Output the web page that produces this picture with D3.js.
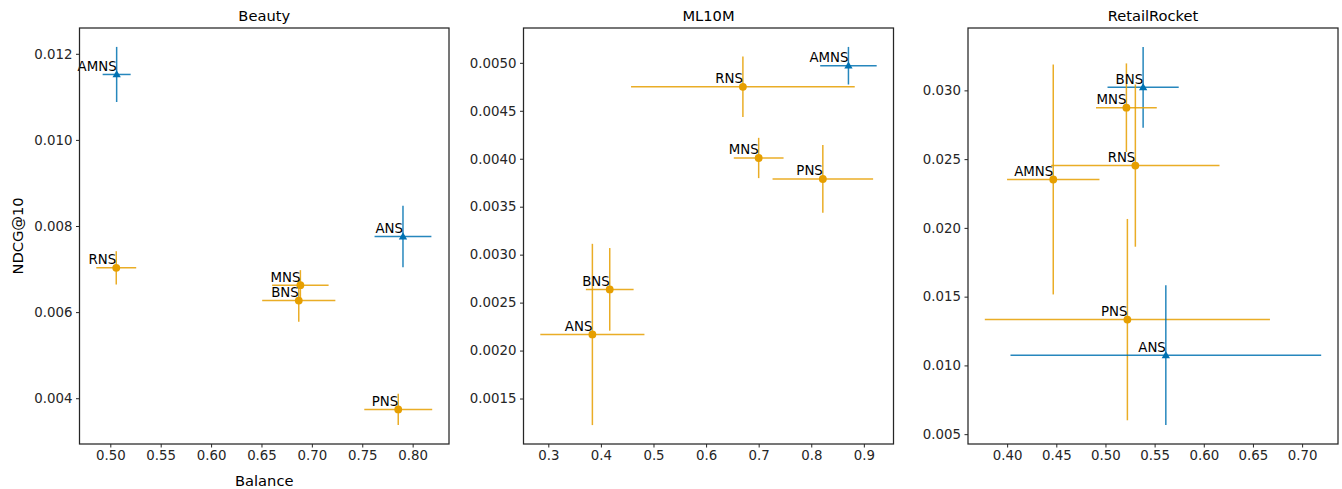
<!DOCTYPE html>
<html>
<head>
<meta charset="utf-8">
<script src="https://cdn.jsdelivr.net/npm/d3@7"></script>
<style>
  html, body { margin: 0; padding: 0; background: #fff; }
  svg text { font-family: "DejaVu Sans", sans-serif; }
</style>
</head>
<body>
<svg id="chart" width="1342" height="489"></svg>
<script>
// ---------------- DATA ----------------
const datasets = ["Beauty", "ML10M", "RetailRocket"];

// Beauty
const beautyMethods = ["AMNS", "ANS", "RNS", "MNS", "BNS", "PNS"];
const beautyGroup   = ["A", "A", "B", "B", "B", "B"];
const beautyBalance = [0.5063, 0.7904, 0.5059, 0.6886, 0.6870, 0.7857];
const beautyBalErr  = [0.0139, 0.0282, 0.0198, 0.0280, 0.0363, 0.0337];
const beautyNdcg    = [0.01152, 0.007755, 0.007028, 0.006625, 0.006269, 0.00374];
const beautyNdcgErr = [0.00064, 0.000713, 0.000387, 0.00035, 0.00049, 0.000364];

// ML10M
const mlMethods = ["AMNS", "RNS", "MNS", "PNS", "BNS", "ANS"];
const mlGroup   = ["A", "B", "B", "B", "B", "B"];
const mlBalance = [0.8707, 0.6700, 0.7000, 0.8220, 0.4168, 0.3838];
const mlBalErr  = [0.0537, 0.2127, 0.0473, 0.0956, 0.0454, 0.0990];
const mlNdcg    = [0.00497, 0.00475, 0.004008, 0.003789, 0.002638, 0.002168];
const mlNdcgErr = [0.000196, 0.000316, 0.00021, 0.000353, 0.000431, 0.000945];

// RetailRocket
const rrMethods = ["BNS", "MNS", "RNS", "AMNS", "PNS", "ANS"];
const rrGroup   = ["A", "B", "B", "B", "B", "A"];
const rrBalance = [0.5383, 0.5213, 0.5304, 0.4469, 0.5223, 0.5614];
const rrBalErr  = [0.0362, 0.0309, 0.0856, 0.0470, 0.1450, 0.1580];
const rrNdcg    = [0.03022, 0.02874, 0.02453, 0.02352, 0.01333, 0.01074];
const rrNdcgErr = [0.00294, 0.00322, 0.0059, 0.00836, 0.00732, 0.00508];

// Tick labels
const beautyXTicks = [0.50, 0.55, 0.60, 0.65, 0.70, 0.75, 0.80];
const beautyYTicks = [0.004, 0.006, 0.008, 0.010, 0.012];
const mlXTicks = [0.3, 0.4, 0.5, 0.6, 0.7, 0.8, 0.9];
const mlYTicks = [0.0015, 0.0020, 0.0025, 0.0030, 0.0035, 0.0040, 0.0045, 0.0050];
const rrXTicks = [0.40, 0.45, 0.50, 0.55, 0.60, 0.65, 0.70];
const rrYTicks = [0.005, 0.010, 0.015, 0.020, 0.025, 0.030];

const xLabel = "Balance";
const yLabel = "NDCG@10";

// ---------------- LAYOUT / STYLE ----------------
const colors = { A: "#0072B2", B: "#E69F00" };
const panels = [
  { title: datasets[0], methods: beautyMethods, group: beautyGroup, x: beautyBalance, xe: beautyBalErr,
    y: beautyNdcg, ye: beautyNdcgErr, xt: beautyXTicks, yt: beautyYTicks, xf: ".2f", yf: ".3f",
    left: 79.5, right: 449 },
  { title: datasets[1], methods: mlMethods, group: mlGroup, x: mlBalance, xe: mlBalErr,
    y: mlNdcg, ye: mlNdcgErr, xt: mlXTicks, yt: mlYTicks, xf: ".1f", yf: ".4f",
    left: 523.5, right: 893.5 },
  { title: datasets[2], methods: rrMethods, group: rrGroup, x: rrBalance, xe: rrBalErr,
    y: rrNdcg, ye: rrNdcgErr, xt: rrXTicks, yt: rrYTicks, xf: ".2f", yf: ".3f",
    left: 968, right: 1338 }
];
const plotTop = 28, plotBottom = 444;
const fs = 13.33;
const fsBig = 14.67;

const svg = d3.select("#chart");

function paddedDomain(lo, hi) {
  const r = hi - lo;
  return [lo - 0.05 * r, hi + 0.05 * r];
}

panels.forEach((p, pi) => {
  const rows = p.methods.map((m, i) => ({ m, g: p.group[i], x: p.x[i], xe: p.xe[i], y: p.y[i], ye: p.ye[i] }));
  const xd = paddedDomain(d3.min(rows, d => d.x - d.xe), d3.max(rows, d => d.x + d.xe));
  const yd = paddedDomain(d3.min(rows, d => d.y - d.ye), d3.max(rows, d => d.y + d.ye));
  const xs = d3.scaleLinear().domain(xd).range([p.left, p.right]);
  const ys = d3.scaleLinear().domain(yd).range([plotBottom, plotTop]);

  const g = svg.append("g");

  // axes
  const xAxis = d3.axisBottom(xs).tickValues(p.xt).tickFormat(d3.format(p.xf)).tickSize(3.5).tickPadding(3.5);
  const yAxis = d3.axisLeft(ys).tickValues(p.yt).tickFormat(d3.format(p.yf)).tickSize(3.5).tickPadding(3.5);
  const gx = g.append("g").attr("transform", `translate(0,${plotBottom})`).call(xAxis);
  const gy = g.append("g").attr("transform", `translate(${p.left},0)`).call(yAxis);
  [gx, gy].forEach(a => {
    a.select(".domain").remove();
    a.selectAll(".tick line").attr("stroke", "#262626").attr("stroke-width", 1);
    a.selectAll(".tick text").attr("fill", "#262626").style("font-size", fs + "px")
      .style("font-family", "'DejaVu Sans', sans-serif");
  });

  // error bars
  rows.forEach(d => {
    const c = colors[d.g];
    g.append("line").attr("x1", xs(d.x - d.xe)).attr("x2", xs(d.x + d.xe))
      .attr("y1", ys(d.y)).attr("y2", ys(d.y))
      .attr("stroke", c).attr("stroke-width", 1.5).attr("stroke-opacity", 0.85);
    g.append("line").attr("x1", xs(d.x)).attr("x2", xs(d.x))
      .attr("y1", ys(d.y - d.ye)).attr("y2", ys(d.y + d.ye))
      .attr("stroke", c).attr("stroke-width", 1.5).attr("stroke-opacity", 0.85);
  });

  // markers
  rows.forEach(d => {
    const c = colors[d.g];
    const sym = d.g === "A" ? d3.symbolTriangle : d3.symbolCircle;
    const size = d.g === "A" ? 30 : 48;
    g.append("path").attr("d", d3.symbol().type(sym).size(size)())
      .attr("transform", `translate(${xs(d.x)},${ys(d.y) + (d.g === "A" ? 0.5 : 0)})`)
      .attr("fill", c);
  });

  // text labels
  rows.forEach(d => {
    g.append("text").attr("x", xs(d.x)).attr("y", ys(d.y) - 3.5)
      .attr("text-anchor", "end").style("font-size", fs + "px").attr("fill", "#000")
      .text(d.m);
  });

  // frame
  g.append("rect").attr("x", p.left).attr("y", plotTop)
    .attr("width", p.right - p.left).attr("height", plotBottom - plotTop)
    .attr("fill", "none").attr("stroke", "#262626").attr("stroke-width", 1.25);

  // title
  g.append("text").attr("x", (p.left + p.right) / 2).attr("y", 20.5)
    .attr("text-anchor", "middle").style("font-size", fsBig + "px").attr("fill", "#000")
    .text(p.title);

  if (pi === 0) {
    g.append("text").attr("x", (p.left + p.right) / 2).attr("y", 485.5)
      .attr("text-anchor", "middle").style("font-size", fsBig + "px").attr("fill", "#000")
      .text(xLabel);
    g.append("text").attr("transform", `translate(22.5,${(plotTop + plotBottom) / 2}) rotate(-90)`)
      .attr("text-anchor", "middle").style("font-size", fsBig + "px").attr("fill", "#000")
      .text(yLabel);
  }
});
</script>
</body>
</html>
